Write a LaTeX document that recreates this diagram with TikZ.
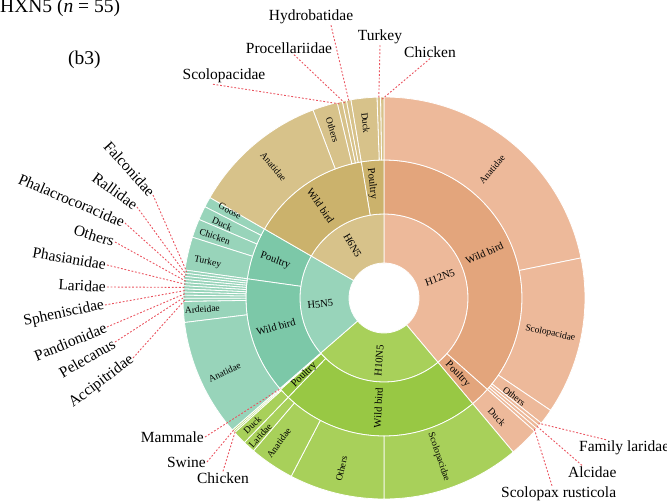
\documentclass[tikz,border=0pt]{standalone}
\usepackage{fontspec}
\setmainfont{Liberation Serif}
\definecolor{salL}{RGB}{237,185,154}
\definecolor{salD}{RGB}{227,165,124}
\definecolor{grnL}{RGB}{168,208,90}
\definecolor{grnD}{RGB}{152,200,68}
\definecolor{teaL}{RGB}{152,212,186}
\definecolor{teaD}{RGB}{124,200,168}
\definecolor{tanL}{RGB}{215,194,138}
\definecolor{tanD}{RGB}{203,178,108}
\definecolor{leadred}{RGB}{234,84,96}
\newcommand\annsec[5]{\path[fill=#1,draw=white,line width=0.8pt] (#2:#4pt) arc[start angle=#2,end angle=#3,radius=#4pt] -- (#3:#5pt) arc[start angle=#3,end angle=#2,radius=#5pt] -- cycle;}
\tikzset{
  inlab/.style={font=\fontsize{10.5}{11}\selectfont, inner sep=0pt},
  rlab/.style={font=\fontsize{9.5}{10}\selectfont, inner sep=0pt},
  outlab/.style={font=\fontsize{15.5}{17}\selectfont, inner sep=1pt},
  leader/.style={draw=leadred, dash pattern=on 1.8pt off 1.8pt, line width=0.9pt},
}
\begin{document}
\begin{tikzpicture}
\useasboundingbox (-384pt,-203pt) rectangle (283pt,298pt);
% ring 1
\annsec{salL}{-50}{90}{35}{84}
\annsec{grnL}{-139}{-50}{35}{84}
\annsec{teaL}{150}{221}{35}{84}
\annsec{tanL}{90}{150}{35}{84}
% ring 2
\annsec{salD}{-41.5}{90}{84}{138}
\annsec{salD}{-50}{-41.5}{84}{138}
\annsec{grnD}{-134}{-50}{84}{138}
\annsec{grnD}{-138.5}{-134}{84}{138}
\annsec{grnD}{-139}{-138.5}{84}{138}
\annsec{teaD}{150}{172}{84}{138}
\annsec{teaD}{172}{221}{84}{138}
\annsec{tanD}{90}{99.5}{84}{138}
\annsec{tanD}{99.5}{150}{84}{138}
% ring 3 salmon
\annsec{salL}{11.5}{90}{138}{201}
\annsec{salL}{-34}{11.5}{138}{201}
\annsec{salL}{-38.5}{-34}{138}{201}
\annsec{salL}{-39.5}{-38.5}{138}{201}
\annsec{salL}{-40.5}{-39.5}{138}{201}
\annsec{salL}{-41.5}{-40.5}{138}{201}
\annsec{salL}{-50}{-41.5}{138}{201}
% ring 3 green
\annsec{grnL}{-90}{-50}{138}{201}
\annsec{grnL}{-117.5}{-90}{138}{201}
\annsec{grnL}{-130.5}{-117.5}{138}{201}
\annsec{grnL}{-134}{-130.5}{138}{201}
\annsec{grnL}{-138}{-134}{138}{201}
\annsec{grnL}{-138.5}{-138}{138}{201}
\annsec{grnL}{-139}{-138.5}{138}{201}
% ring 3 teal
\annsec{teaL}{150}{153}{138}{201}
\annsec{teaL}{153}{157}{138}{201}
\annsec{teaL}{157}{162.4}{138}{201}
\annsec{teaL}{162.4}{172}{138}{201}
\foreach \i in {0,...,9}{
  \pgfmathsetmacro\aa{172+0.9*\i}
  \pgfmathsetmacro\bb{172.9+0.9*\i}
  \annsec{teaL}{\aa}{\bb}{138}{201}
}
\annsec{teaL}{181}{187}{138}{201}
\annsec{teaL}{187}{221}{138}{201}
% ring 3 tan
\annsec{tanL}{90}{91}{138}{201}
\annsec{tanL}{91}{92}{138}{201}
\annsec{tanL}{92}{99.5}{138}{201}
\annsec{tanL}{99.5}{100.8}{138}{201}
\annsec{tanL}{100.8}{102}{138}{201}
\annsec{tanL}{102}{103.5}{138}{201}
\annsec{tanL}{103.5}{110.7}{138}{201}
\annsec{tanL}{110.7}{150}{138}{201}

% ring 1 labels
\node[inlab, rotate=20] (tH12) at (20:59.5pt) {H12N5};
\node[inlab, rotate=85.5] (tH10) at (-94.5:63pt) {H10N5};
\node[inlab, rotate=5.5] (tH5) at (185.5:64pt) {H5N5};
\node[inlab, rotate=-60] (tH6) at (121:61pt) {H6N5};
% ring 2 labels
\node[inlab, rotate=24] (sWild) at (24:110pt) {Wild bird};
\node[inlab, rotate=-46] (sPoul) at (-46:106pt) {Poultry};
\node[inlab, rotate=87] (gWild) at (-93:110pt) {Wild bird};
\node[inlab, rotate=44] (gPoul) at (-136:111pt) {Poultry};
\node[inlab, rotate=-19] (tPoul) at (161:115pt) {Poultry};
\node[inlab, rotate=16] (tWild) at (195:112pt) {Wild bird};
\node[inlab, rotate=-84] (nPoul) at (96:115pt) {Poultry};
\node[inlab, rotate=-56] (nWild) at (124.5:112pt) {Wild bird};
% ring 3 labels
\node[rlab, rotate=50] (sAna) at (50:168pt) {Anatidae};
\node[rlab, rotate=-12] (sSco) at (-12:170pt) {Scolopacidae};
\node[rlab, rotate=-37] (sOth) at (-37:163pt) {Others};
\node[rlab, rotate=-46.5] (sDuck) at (-46.5:164pt) {Duck};
\node[rlab, rotate=-71] (gSco) at (-71:168pt) {Scolopacidae};
\node[rlab, rotate=76] (gOth) at (-104:176pt) {Others};
\node[rlab, rotate=54] (gAna) at (-126:179pt) {Anatidae};
\node[rlab, rotate=48] (gLar) at (-132:185pt) {Laridae};
\node[rlab, rotate=44] (gDuck) at (-136:183pt) {Duck};
\node[rlab, rotate=-28] (tGoose) at (150.5:177pt) {Goose};
\node[rlab, rotate=-24] (tDuck) at (155.5:178pt) {Duck};
\node[rlab, rotate=-19] (tChick) at (160:180pt) {Chicken};
\node[rlab, rotate=-12] (tTurk) at (168.5:180pt) {Turkey};
\node[rlab, rotate=4] (tArd) at (183.5:182pt) {Ardeidae};
\node[rlab, rotate=25] (tAna) at (205:176pt) {Anatidae};
\node[rlab, rotate=-84] (nDuck) at (96:176pt) {Duck};
\node[rlab, rotate=-73] (nOth) at (107:176pt) {Others};
\node[rlab, rotate=-50] (nAna) at (130:172pt) {Anatidae};

% title
\node[font=\fontsize{19.5}{21}\selectfont, anchor=base west, inner sep=0pt] (title) at (-384pt,285pt) {HXN5 (\textit{n} = 55)};
\node[font=\fontsize{19.5}{21}\selectfont, anchor=base west, inner sep=0pt] (sub) at (-316pt,233pt) {(b3)};

% leader targets
\coordinate (cFalc) at (172.45:199pt);
\coordinate (cRall) at (173.35:199pt);
\coordinate (cPhal) at (174.25:199pt);
\coordinate (cOthL) at (175.15:199pt);
\coordinate (cPhas) at (176.05:199pt);
\coordinate (cLarL) at (176.95:199pt);
\coordinate (cSphe) at (177.85:199pt);
\coordinate (cPand) at (178.75:199pt);
\coordinate (cPele) at (179.65:199pt);
\coordinate (cAcci) at (180.55:199pt);
\coordinate (cScoT) at (102.8:199pt);
\coordinate (cProc) at (101.4:199pt);
\coordinate (cHydr) at (100.1:199pt);
\coordinate (cTurT) at (91.5:199pt);
\coordinate (cChiT) at (90.5:199pt);
\coordinate (cFam) at (-39:199pt);
\coordinate (cAlc) at (-40:199pt);
\coordinate (cScr) at (-41:199pt);
\coordinate (cMam) at (-138.75:137pt);
\coordinate (cSwi) at (-138.75:199pt);
\coordinate (cChiB) at (-138.25:199pt);

% left labels
\node[outlab, rotate=-48, anchor=east] (lFalc) at (-231pt,103pt) {Falconidae};
\node[outlab, rotate=-36, anchor=east] (lRall) at (-247pt,91pt) {Rallidae};
\node[outlab, rotate=-23, anchor=east] (lPhal) at (-259pt,75pt) {Phalacrocoracidae};
\node[outlab, rotate=-17, anchor=east] (lOthL) at (-269pt,56pt) {Others};
\node[outlab, rotate=-10, anchor=east] (lPhas) at (-277pt,33pt) {Phasianidae};
\node[outlab, rotate=-3, anchor=east] (lLarL) at (-277pt,11pt) {Laridae};
\node[outlab, rotate=12, anchor=east] (lSphe) at (-279pt,-7pt) {Spheniscidae};
\node[outlab, rotate=22, anchor=east] (lPand) at (-277pt,-29pt) {Pandionidae};
\node[outlab, rotate=30, anchor=east] (lPele) at (-269pt,-44pt) {Pelecanus};
\node[outlab, rotate=37, anchor=east] (lAcci) at (-251pt,-60pt) {Accipitridae};
% top labels
\node[outlab] (lScoT) at (-160pt,222pt) {Scolopacidae};
\node[outlab] (lProc) at (-95pt,250pt) {Procellariidae};
\node[outlab] (lHydr) at (-73pt,281pt) {Hydrobatidae};
\node[outlab] (lTurT) at (-4pt,261pt) {Turkey};
\node[outlab] (lChiT) at (46pt,246pt) {Chicken};
% right labels
\node[outlab, anchor=west] (lFam) at (194pt,-150pt) {Family laridae};
\node[outlab, anchor=west] (lAlc) at (183pt,-174pt) {Alcidae};
\node[outlab, anchor=west] (lScr) at (116pt,-196pt) {Scolopax rusticola};
% bottom-left labels
\node[outlab, anchor=east] (lMam) at (-179pt,-139pt) {Mammale};
\node[outlab, anchor=east] (lSwi) at (-177pt,-164pt) {Swine};
\node[outlab, anchor=east] (lChiB) at (-134pt,-180pt) {Chicken};

% leaders
\draw[leader] (lFalc.east) -- (cFalc);
\draw[leader] (lRall.east) -- (cRall);
\draw[leader] (lPhal.east) -- (cPhal);
\draw[leader] (lOthL.east) -- (cOthL);
\draw[leader] (lPhas.east) -- (cPhas);
\draw[leader] (lLarL.east) -- (cLarL);
\draw[leader] (lSphe.east) -- (cSphe);
\draw[leader] (lPand.east) -- (cPand);
\draw[leader] (lPele.east) -- (cPele);
\draw[leader] (lAcci.east) -- (cAcci);
\draw[leader] ([xshift=-11pt]lScoT.south) -- (cScoT);
\draw[leader] ([xshift=5pt]lProc.south) -- (cProc);
\draw[leader] ([xshift=20pt]lHydr.south) -- (cHydr);
\draw[leader] (lTurT.south) -- (cTurT);
\draw[leader] (lChiT.south) -- (cChiT);
\draw[leader] ([xshift=28pt]lFam.north west) -- (cFam);
\draw[leader] ([xshift=15pt]lAlc.north west) -- (cAlc);
\draw[leader] ([xshift=52pt]lScr.north west) -- (cScr);
\draw[leader] (lMam.east) -- (cMam);
\draw[leader] (lSwi.east) -- (cSwi);
\draw[leader] (lChiB.north) -- (cChiB);
\end{tikzpicture}
\end{document}
